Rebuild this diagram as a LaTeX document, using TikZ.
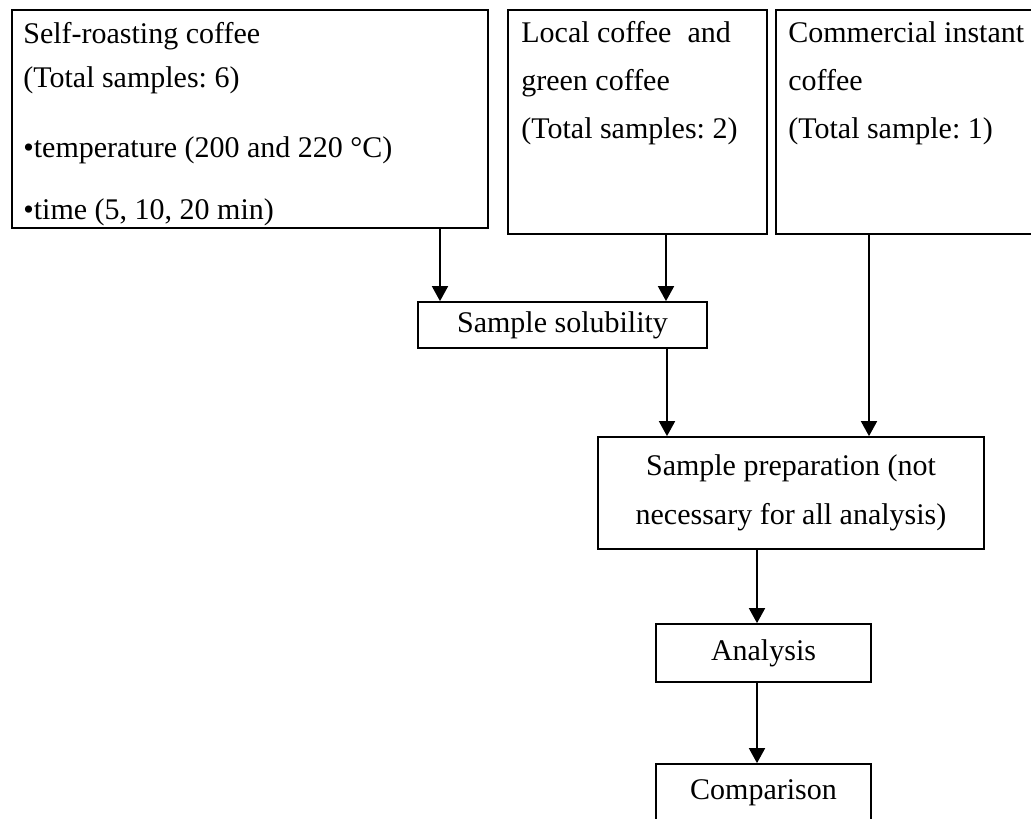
\documentclass[tikz,border=0pt]{standalone}
\usepackage{fontspec}
\setmainfont{Liberation Serif}
\frenchspacing
\usetikzlibrary{calc,positioning,arrows.meta}
\tikzset{
    srcbox/.style={
        draw,
        line width=1pt,
        anchor=north west,
        inner sep=0pt
    },
    srctext/.style={
        anchor=north west,
        inner sep=0pt,
        align=left,
        font=\fontsize{17.07pt}{0.88cm}\selectfont
    },
    stepbox/.style={
        draw,
        line width=1pt,
        inner sep=0pt,
        align=center,
        font=\fontsize{17.07pt}{0.98cm}\selectfont
    },
    flowarrow/.style={
        line width=1pt,
        -{Triangle[length=0.3cm, width=0.32cm]}
    }
}
\begin{document}
\begin{tikzpicture}
    \useasboundingbox (0,0) rectangle (20.62,-16.36);
    \clip (0,0) rectangle (20.62,-16.36);

    % the three sources of coffee
    \node[srcbox, minimum width=9.52cm, minimum height=4.36cm] (self) at (0.22,-0.18) {};
    \node[srcbox, minimum width=5.18cm, minimum height=4.48cm] (local) at (10.14,-0.18) {};
    \node[srcbox, minimum width=5.9cm, minimum height=4.48cm] (instant) at (15.50,-0.18) {};

    \node[srctext] (selftext) at ($(self.north west)+(0.24,-0.27)$)
        {Self-roasting coffee\\(Total samples: 6)\\[0.52cm]•temperature (200 and 220 °C)\\[0.36cm]•time (5, 10, 20 min)};
    \node[srctext] (localtext) at ($(local.north west)+(0.28,-0.25)$)
        {Local coffee\hspace{0.32cm}and\\[0.08cm]green coffee\\[0.08cm](Total samples: 2)};
    \node[srctext] (instanttext) at ($(instant.north west)+(0.26,-0.25)$)
        {Commercial instant\\[0.08cm]coffee\\[0.08cm](Total sample: 1)};

    % steps
    \node[stepbox, minimum width=5.78cm, minimum height=0.92cm] (sol) at (11.25,-6.50) {Sample solubility};
    \node[stepbox, minimum width=7.72cm, minimum height=2.24cm] (prep) at (15.82,-9.86) {Sample preparation (not\\necessary for all analysis)};
    \node[stepbox, minimum width=4.30cm, minimum height=1.16cm] (ana) at (15.27,-13.06) {Analysis};
    \node[stepbox, minimum width=4.30cm, minimum height=1.16cm] (comp) at (15.27,-15.86) {Comparison};

    \draw[flowarrow] (8.80,0 |- self.south) -- (8.80,0 |- sol.north);
    \draw[flowarrow] (13.32,0 |- local.south) -- (13.32,0 |- sol.north);
    \draw[flowarrow] (13.34,0 |- sol.south) -- (13.34,0 |- prep.north);
    \draw[flowarrow] (17.38,0 |- instant.south) -- (17.38,0 |- prep.north);
    \draw[flowarrow] (15.14,0 |- prep.south) -- (15.14,0 |- ana.north);
    \draw[flowarrow] (15.14,0 |- ana.south) -- (15.14,0 |- comp.north);
\end{tikzpicture}
\end{document}
